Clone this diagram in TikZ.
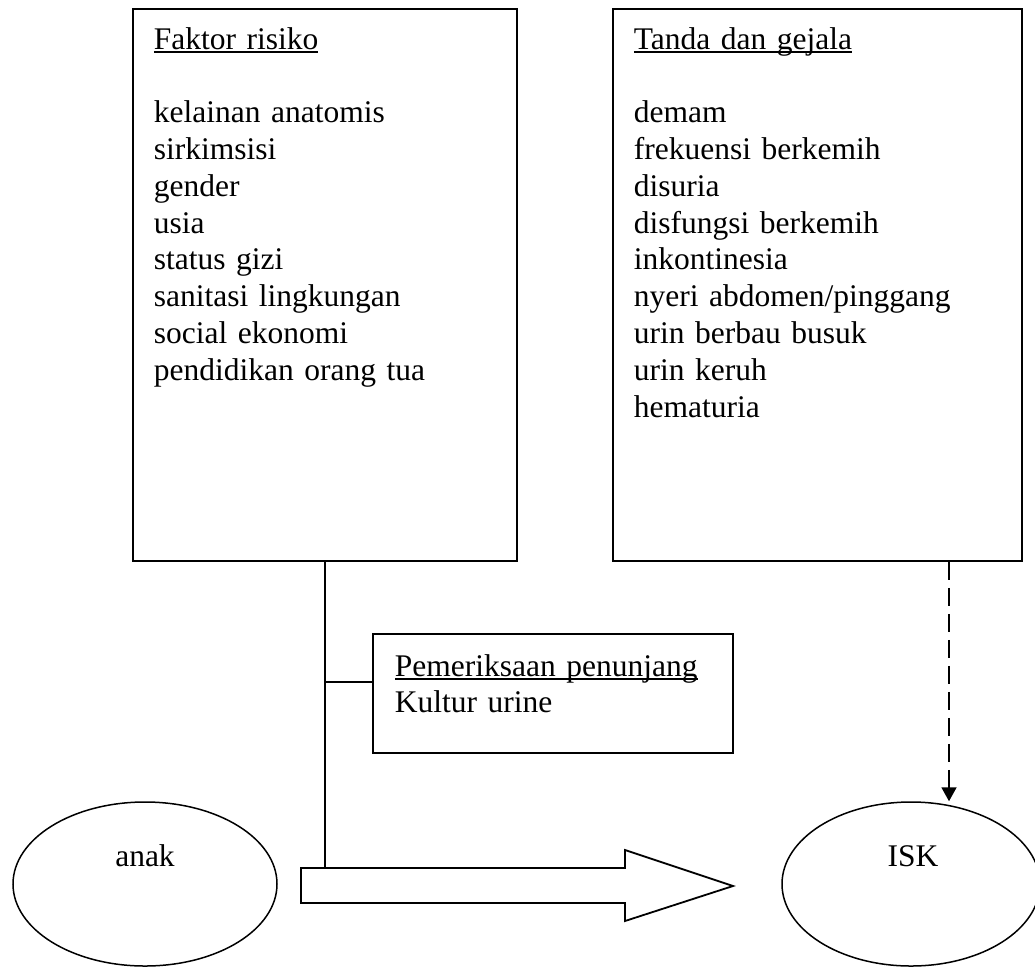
\documentclass[tikz,border=0pt]{standalone}
\usepackage{fontspec}
\setmainfont{Liberation Serif}
\usetikzlibrary{shapes.geometric,arrows.meta,calc}
\newcommand\myul[1]{\setbox0\hbox{#1}\rlap{\rule[-4pt]{\wd0}{1.7pt}}\box0}
\begin{document}
\begin{tikzpicture}[x=1pt,y=-1pt,line width=1.8pt,
  boxn/.style={draw,rectangle,inner sep=0pt},
  ell/.style={draw,ellipse,inner sep=0pt,minimum height=164pt,line width=1.5pt},
  txt/.style={inner sep=0pt,anchor=base west,align=left,text width=390pt,font=\fontsize{31.5}{36.8}\selectfont},
  lbl/.style={inner sep=0pt,anchor=base,font=\fontsize{31.5}{36.8}\selectfont},
  dasharrow/.style={dash pattern=on 18pt off 8pt,-{Triangle[length=14pt,width=15pt]}}]
\useasboundingbox (0,0) rectangle (1035,967);
% boxes
\node[boxn,minimum width=384pt,minimum height=552pt] (risk) at (325,285) {};
\node[boxn,minimum width=409pt,minimum height=552pt] (sign) at (817.5,285) {};
\node[boxn,minimum width=360pt,minimum height=119pt] (exam) at (553,693.5) {};
% texts
\node[txt] (risktxt) at (153,49) {\myul{Faktor risiko}\\[36.8pt]
kelainan anatomis\\ sirkimsisi\\ gender\\ usia\\ status gizi\\ sanitasi lingkungan\\ social ekonomi\\ pendidikan orang tua};
\node[txt] (signtxt) at (633,49) {\myul{Tanda dan gejala}\\[36.8pt]
demam\\ frekuensi berkemih\\ disuria\\ disfungsi berkemih\\ inkontinesia\\ nyeri abdomen/pinggang\\ urin berbau busuk\\ urin keruh\\ hematuria};
\node[txt] (examtxt) at (394,676) {\myul{Pemeriksaan penunjang}\\ Kultur urine};
% ellipses
\node[ell,minimum width=264pt] (anak) at (145,884) {};
\node[ell,minimum width=258pt] (isk) at (911,884) {};
\node[lbl] (anaktxt) at (145,866) {anak};
\node[lbl] (isktxt) at (913,866) {ISK};
% block arrow
\coordinate (a1) at (301,868);
\coordinate (a2) at (625,868);
\coordinate (a3) at (625,850);
\coordinate (a4) at (733,886);
\coordinate (a5) at (625,921);
\coordinate (a6) at (625,903);
\coordinate (a7) at (301,903);
\draw[fill=white] (a1) -- (a2) -- (a3) -- (a4) -- (a5) -- (a6) -- (a7) -- cycle;
% connectors
\draw (risk.south) -- (risk.south |- a1);
\coordinate (jn) at (325,682);
\draw (jn) -- (jn -| exam.west);
\coordinate (dx) at (949,0);
\draw[dasharrow] (sign.south -| dx) -- (dx |- isk.north);
\end{tikzpicture}
\end{document}
